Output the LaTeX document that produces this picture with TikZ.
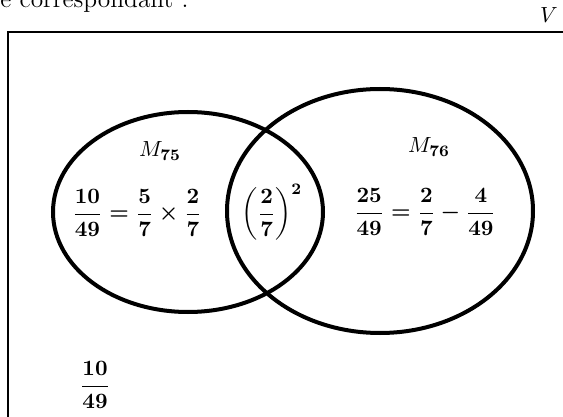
\documentclass[tikz,border=0pt]{standalone}
\usepackage{amsmath}
\tikzset{
  venn/.style={line width=2pt},
  frame/.style={line width=0.8pt},
  setlbl/.style={inner sep=0pt, font=\fontsize{11}{13}\selectfont},
  vals/.style={inner sep=0pt, font=\fontsize{11}{13}\selectfont\boldmath}
}
\begin{document}
\begin{tikzpicture}[x=0.5pt,y=-0.5pt]
  \useasboundingbox (0,0) rectangle (563,417);
  \clip (0,0) rectangle (563,417);
  % line of text above the frame, cut by the top edge
  \node[anchor=base west, inner sep=0pt, font=\fontsize{12.7}{15}\selectfont] (capline) at (0,8) {e correspondant :};
  % universe V (frame runs past the right and bottom edges)
  \draw[frame] (8,32) rectangle (580,440);
  \node[anchor=base, inner sep=0pt, font=\fontsize{11}{13}\selectfont] (vlabel) at (549,23) {$V$};
  % the two sets
  \draw[venn] (188,212) ellipse [x radius=135, y radius=100];
  \draw[venn] (380,211) ellipse [x radius=153, y radius=122];
  \node[setlbl] (m75) at (160,151) {$M_{\mathbf{75}}$};
  \node[setlbl] (m76) at (429,147) {$M_{\mathbf{76}}$};
  % values in each region
  \node[vals] (left) at (137,213) {$\dfrac{10}{49}=\dfrac{5}{7}\times\dfrac{2}{7}$};
  \node[vals] (mid) at (272,212) {$\biggl(\dfrac{2}{7}\biggr)^{2}$};
  \node[vals] (right) at (425,212) {$\dfrac{25}{49}=\dfrac{2}{7}-\dfrac{4}{49}$};
  \node[vals] (outside) at (95,385) {$\dfrac{10}{49}$};
\end{tikzpicture}
\end{document}
